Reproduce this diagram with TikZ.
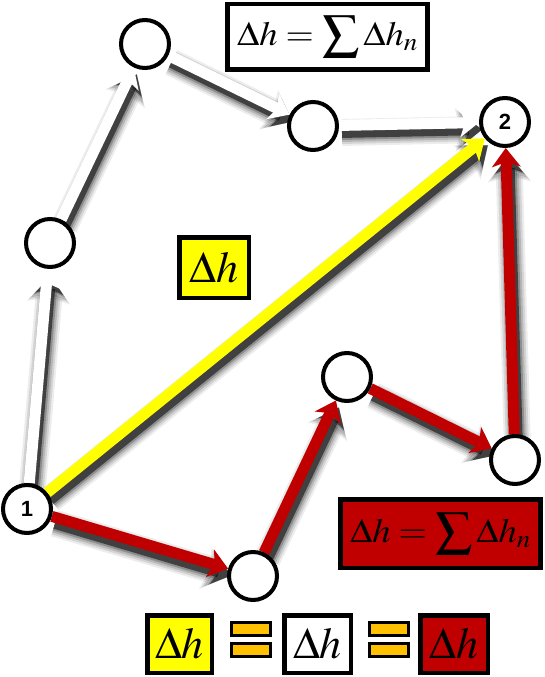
\documentclass[tikz,border=0pt]{standalone}
\usepackage{mathptmx}
\usepackage[no-math]{fontspec}
\newfontfamily\labelfont{Liberation Sans}
\usetikzlibrary{arrows.meta}
\pgfdeclarelayer{bg}
\pgfsetlayers{bg,main}
\definecolor{myred}{RGB}{192,0,0}
\definecolor{myyellow}{RGB}{255,255,0}
\definecolor{myorange}{RGB}{255,192,0}
\newcommand\arrshadow[2]{%
  \foreach \w/\o/\L/\W in {27/0.07/27/44, 23/0.10/25/40, 19/0.14/23/36, 15/0.22/20/32, 11/0.55/18/28}{%
    \draw[transform canvas={shift={(3pt,-7pt)}}, line width=\w pt, black, opacity=\o,
      -{Stealth[length=\L pt, width=\W pt, inset=5pt, line width=0pt]}] (#1) -- (#2);
  }%
}
\newcommand\arrbody[3]{%
  \draw[line width=11pt, #3, -{Stealth[length=19pt, width=29pt, inset=5pt, line width=0pt]}] (#1) -- (#2);
}
\newcommand\sumtext{\scalebox{1.07}[1]{$\displaystyle\Delta h=\sum\Delta h_n$}}
\begin{document}
\begin{tikzpicture}[x=1pt,y=-1pt,
  circ/.style={circle, draw, line width=4pt, fill=white, minimum size=48pt, inner sep=0pt,
    font=\labelfont\bfseries\fontsize{22}{22}\selectfont},
  sumbox/.style={draw, line width=4.5pt, inner sep=0pt, minimum width=200pt,
    font=\fontsize{34}{34}\selectfont},
  hbox/.style={draw, line width=4.5pt, inner sep=0pt, font=\fontsize{44}{44}\selectfont},
  bar/.style={draw, line width=3pt, fill=myorange, inner sep=0pt, minimum width=39pt, minimum height=13pt}]
\useasboundingbox (0,0) rectangle (544,677);
% nodes
\node[circ] (n1) at (27,509) {1};
\node[circ] (nC) at (50,243) {};
\node[circ] (nA) at (145,44) {};
\node[circ] (nB) at (313,126) {};
\node[circ] (n2) at (505,122) {2};
\node[circ] (nD) at (253,576) {};
\node[circ] (nE) at (347,377) {};
\node[circ] (nF) at (515,460) {};
% boxes
\node[sumbox, fill=white, minimum height=65.5pt] (topsum) at (327.5,37) {\sumtext};
\node[sumbox, fill=myred, minimum height=68.5pt] (redsum) at (440.5,533.5) {\sumtext};
\node[hbox, fill=myyellow, minimum width=69.5pt, minimum height=60.5pt] (ymid) at (214,267.5) {$\Delta h$};
\node[hbox, fill=myyellow, minimum width=64.5pt, minimum height=57.5pt] (yb) at (179.5,644) {$\Delta h$};
\node[hbox, fill=white, minimum width=66.5pt, minimum height=57.5pt] (wb) at (317.5,644) {$\Delta h$};
\node[hbox, fill=myred, minimum width=67.5pt, minimum height=57.5pt] (rb) at (454,644) {$\Delta h$};
\node[bar] (eqa1) at (251,629) {};
\node[bar] (eqa2) at (251,650) {};
\node[bar] (eqb1) at (388.5,629) {};
\node[bar] (eqb2) at (388.5,650) {};
% arrows
\begin{pgfonlayer}{bg}
\fill[white] (0,0) rectangle (544,677);
\arrshadow{n1}{nC}
\arrshadow{nC}{nA}
\arrshadow{nA}{nB}
\arrshadow{nB}{n2}
\arrshadow{n1}{n2}
\arrshadow{n1}{nD}
\arrshadow{nD}{nE}
\arrshadow{nE}{nF}
\arrshadow{nF}{n2}
\arrbody{n1}{nC}{white}
\arrbody{nC}{nA}{white}
\arrbody{nA}{nB}{white}
\arrbody{nB}{n2}{white}
\arrbody{n1}{n2}{myyellow}
\arrbody{n1}{nD}{myred}
\arrbody{nD}{nE}{myred}
\arrbody{nE}{nF}{myred}
\arrbody{nF}{n2}{myred}
\end{pgfonlayer}
\end{tikzpicture}
\end{document}
